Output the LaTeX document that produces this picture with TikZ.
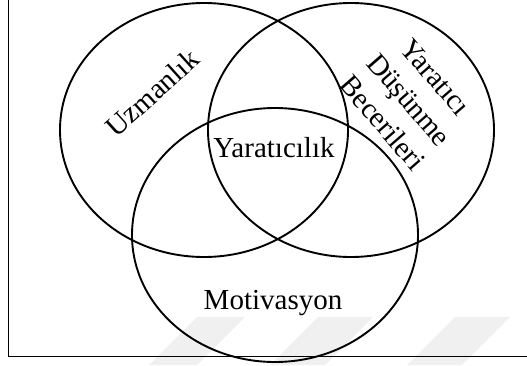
\documentclass[tikz,border=0pt]{standalone}
\usepackage{fontspec}
\setmainfont{Liberation Serif}
\tikzset{
  setcircle/.style={line width=1.9pt},
  setlabel/.style={font=\fontsize{29}{35}\selectfont, inner sep=0pt, align=center},
  watermark/.style={fill=black!6}
}
\begin{document}
\begin{tikzpicture}[x=1pt,y=-1pt]
  \useasboundingbox (0,0) rectangle (527,365);
  \clip (0,0) rectangle (527,365);
  % faint watermark stripes
  \fill[watermark] (197,317) -- (245,317) -- (197,365) -- (149,365) -- cycle;
  \fill[watermark] (318,317) -- (373,317) -- (325,365) -- (270,365) -- cycle;
  \fill[watermark] (455,317) -- (510,317) -- (462,365) -- (407,365) -- cycle;
  % frame
  \draw[line width=1.4pt] (8.5,-10) -- (8.5,356.5) -- (540,356.5);
  % the three sets
  \draw[setcircle] (204,130) ellipse (144 and 127);  % Uzmanlik
  \draw[setcircle] (351,130) ellipse (143 and 127);  % Dusunme
  \draw[setcircle] (275,235) ellipse (143 and 127);  % Motivasyon
  \node[setlabel, rotate=42] (uzman) at (152,93) {Uzmanlık};
  \node[setlabel, rotate=-49] (beceri) at (409,100) {Yaratıcı\\Düşünme\\Becerileri};
  \node[setlabel] (yaratici) at (274,148) {Yaratıcılık};
  \node[setlabel] (motiv) at (273,303) {Motivasyon};
\end{tikzpicture}
\end{document}
